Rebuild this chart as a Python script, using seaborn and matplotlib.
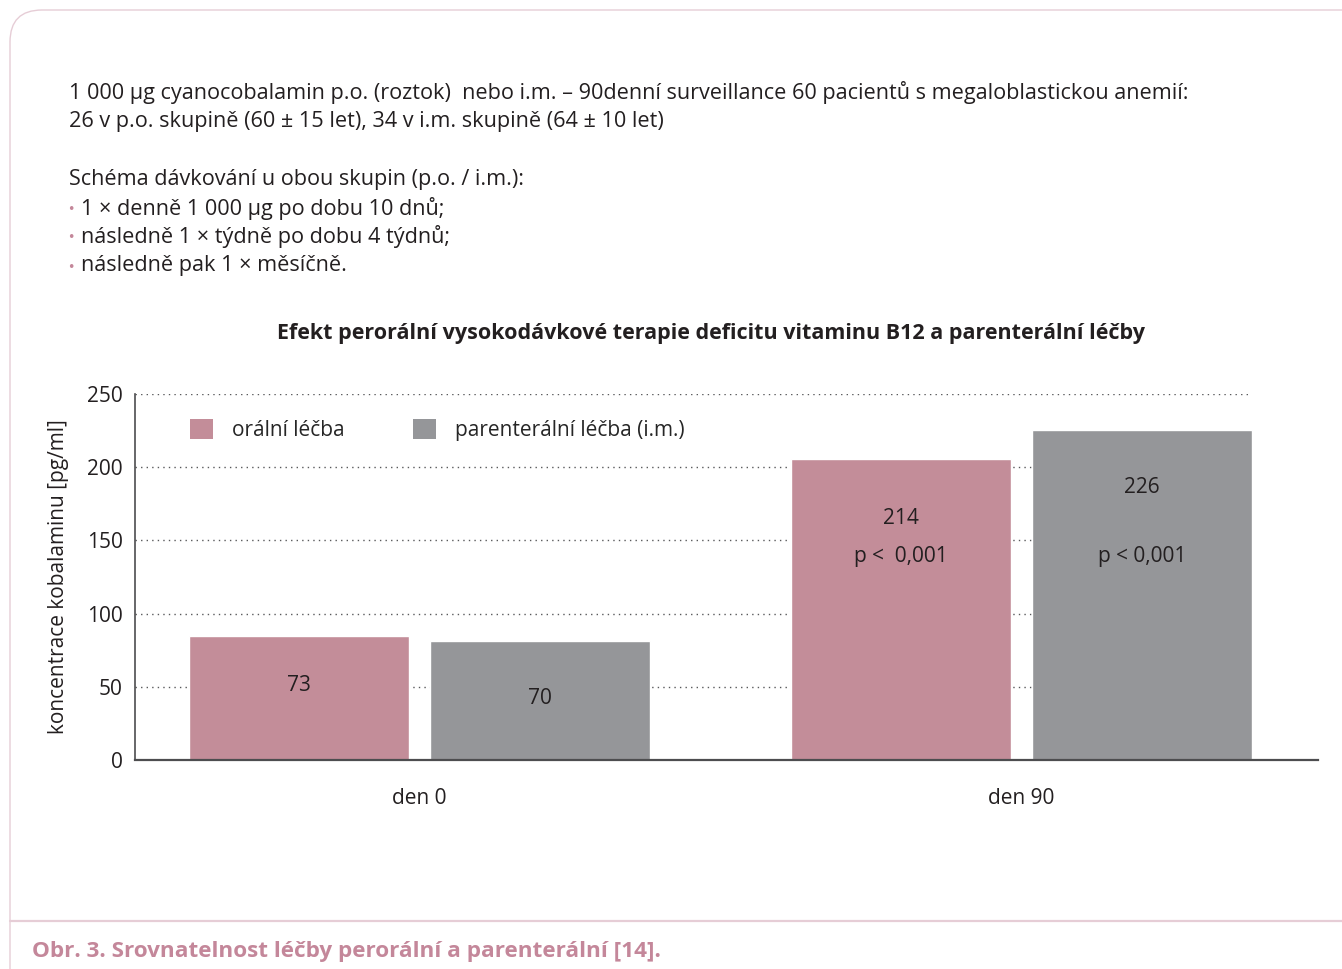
import matplotlib
matplotlib.use("Agg")
import matplotlib.pyplot as plt
from matplotlib.patches import FancyBboxPatch, Patch
from matplotlib.lines import Line2D
import seaborn as sns
import pandas as pd

# ---------------- data ----------------
days = ["den 0", "den 90"]
treatments = ["orální léčba", "parenterální léčba (i.m.)"]
oral_values = [85, 205.5]
parenteral_values = [81, 225.5]
oral_labels = ["73", "214"]
parenteral_labels = ["70", "226"]
oral_p = ["", "p <  0,001"]
parenteral_p = ["", "p < 0,001"]
y_ticks = [0, 50, 100, 150, 200, 250]

title = "Efekt perorální vysokodávkové terapie deficitu vitaminu B12 a parenterální léčby"
y_label = "koncentrace kobalaminu [pg/ml]"
caption = "Obr. 3. Srovnatelnost léčby perorální a parenterální [14]."
intro_lines = [
    "1 000 µg cyanocobalamin p.o. (roztok)  nebo i.m. – 90denní surveillance 60 pacientů s megaloblastickou anemií:",
    "26 v p.o. skupině (60 ± 15 let), 34 v i.m. skupině (64 ± 10 let)",
]
scheme_title = "Schéma dávkování u obou skupin (p.o. / i.m.):"
scheme_items = [
    "1 × denně 1 000 µg po dobu 10 dnů;",
    "následně 1 × týdně po dobu 4 týdnů;",
    "následně pak 1 × měsíčně.",
]

# ---------------- style ----------------
PINK = "#c38d99"
GRAY = "#959699"
TEXT = "#231f20"
FRAME = "#e6cdd6"
CAPTION = "#c4879a"
FS = 15
FS_BODY = 15.6

sns.set_theme(style="white")
plt.rcParams["font.family"] = ["Open Sans", "DejaVu Sans"]

W, H = 1342, 969
fig = plt.figure(figsize=(W / 100, H / 100), dpi=100)

def fx(px):
    return px / W

def fy(py):
    return 1 - py / H

# frame
box = FancyBboxPatch((0.10, -0.5), 14.0, 9.69 - 0.10 + 0.5,
                     boxstyle="round,pad=0,rounding_size=0.32",
                     transform=fig.dpi_scale_trans, fill=False,
                     edgecolor=FRAME, linewidth=1.0, zorder=0)
fig.patches.append(box)
fig.add_artist(Line2D([fx(10), 1.0], [fy(921), fy(921)], transform=fig.transFigure,
                      color=FRAME, linewidth=1.6))

# text block at top
fig.text(fx(69), fy(93), intro_lines[0], fontsize=FS_BODY, color=TEXT, va="center")
fig.text(fx(69), fy(121), intro_lines[1], fontsize=FS_BODY, color=TEXT, va="center")
fig.text(fx(69), fy(180), scheme_title, fontsize=FS_BODY, color=TEXT, va="center")
for i, item in enumerate(scheme_items):
    yy = fy(208 + i * 29)
    fig.text(fx(67), fy(209 + i * 29), "•", fontsize=9, color=CAPTION, va="center",
             family="DejaVu Sans")
    fig.text(fx(81), yy, item, fontsize=FS_BODY, color=TEXT, va="center")

fig.text(fx(711), fy(333), title, fontsize=15.5, fontweight="bold", color=TEXT,
         ha="center", va="center")
fig.text(fx(32), fy(952), caption, fontsize=16.2, fontweight="bold", color=CAPTION,
         va="center")

# ---------------- chart ----------------
ax = fig.add_axes([fx(135), fy(760), (1318 - 135) / W, (760 - 394) / H])

df = pd.DataFrame({
    "day": days * 2,
    "treatment": [treatments[0]] * len(days) + [treatments[1]] * len(days),
    "value": oral_values + parenteral_values,
})

sns.barplot(data=df, x="day", y="value", hue="treatment", order=days,
            hue_order=treatments, palette=[PINK, GRAY], saturation=1,
            width=0.8, gap=0.087, ax=ax, legend=False, zorder=2)

xlim = (-0.4726, 1.4925)
ax.set_xlim(*xlim)
ax.set_ylim(0, 250)
ax.set_yticks(y_ticks)
ax.hlines(y_ticks[1:], xlim[0], 1.38, colors="#58595b", linewidth=1.0,
          linestyles=(0, (1, 3)), zorder=1)

for s in ["top", "right"]:
    ax.spines[s].set_visible(False)
ax.spines["left"].set_color("#4d4d4f")
ax.spines["bottom"].set_color("#4d4d4f")
ax.spines["left"].set_linewidth(1.2)
ax.spines["bottom"].set_linewidth(1.6)

ax.tick_params(axis="y", labelsize=FS, colors=TEXT, length=0, pad=9)
ax.tick_params(axis="x", labelsize=FS, colors=TEXT, length=0, pad=20)
ax.set_xlabel("")
ax.set_ylabel(y_label, fontsize=FS, color=TEXT, labelpad=13)

# value labels inside bars
bars = ax.patches
labels = oral_labels + parenteral_labels
plabels = oral_p + parenteral_p
label_y = [51, 165, 42, 186]
p_y = [0, 139, 0, 139]
for bar, lab, pl, yv, py in zip(bars, labels, plabels, label_y, p_y):
    cx = bar.get_x() + bar.get_width() / 2
    ax.text(cx, yv, lab, ha="center", va="center", fontsize=FS, color=TEXT)
    if pl:
        ax.text(cx, py, pl, ha="center", va="center", fontsize=FS, color=TEXT)

# legend
handles = [Patch(facecolor=PINK, edgecolor="none"), Patch(facecolor=GRAY, edgecolor="none")]
ax.legend(handles, treatments, loc="upper left", bbox_to_anchor=(0.0395, 0.955),
          ncol=2, frameon=False, fontsize=FS, handlelength=1.1, handleheight=1.1,
          handletextpad=0.9, columnspacing=3.3, borderaxespad=0)

fig.savefig("out.png", dpi=100)
